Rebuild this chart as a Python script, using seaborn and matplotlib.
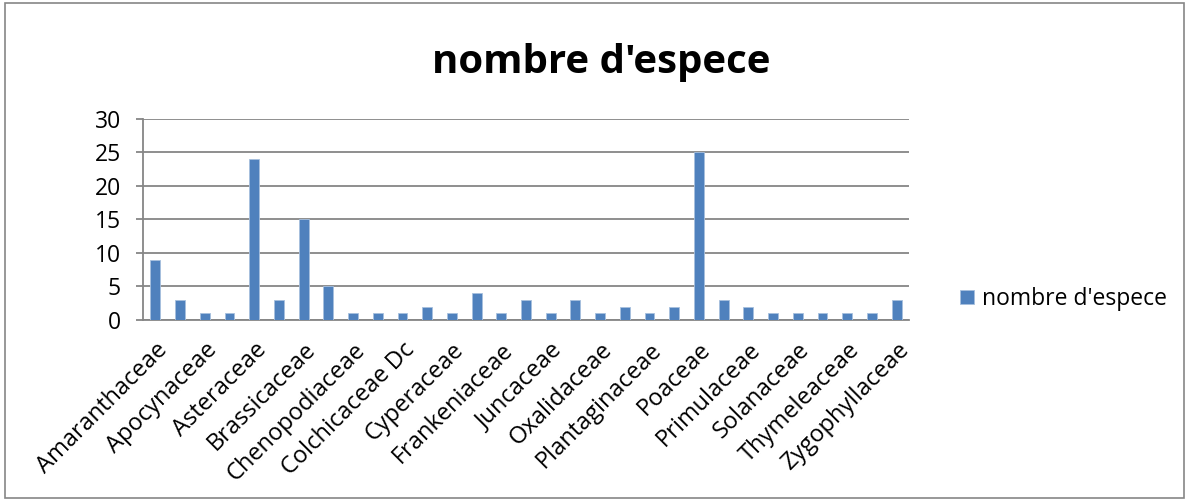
import matplotlib
matplotlib.use("Agg")
import matplotlib.pyplot as plt
import matplotlib.transforms as mtransforms
import seaborn as sns
from matplotlib.patches import Rectangle

# families (only every other name is shown on the axis, as in the original)
familles = ["Amaranthaceae", "Apiaceae", "Apocynaceae", "Asclepiadaceae",
            "Asteraceae", "Boraginaceae", "Brassicaceae", "Caryophyllaceae",
            "Chenopodiaceae", "Cistaceae", "Colchicaceae Dc", "Convolvulaceae",
            "Cyperaceae", "Fabaceae", "Frankeniaceae", "Geraniaceae",
            "Juncaceae", "Lamiaceae", "Oxalidaceae", "Papaveraceae",
            "Plantaginaceae", "Plumbaginaceae", "Poaceae", "Polygonaceae",
            "Primulaceae", "Resedaceae", "Solanaceae", "Tamaricaceae",
            "Thymeleaceae", "Urticaceae", "Zygophyllaceae"]
nb_especes = [9, 3, 1, 1, 24, 3, 15, 5, 1, 1, 1, 2, 1, 4, 1, 3,
              1, 3, 1, 2, 1, 2, 25, 3, 2, 1, 1, 1, 1, 1, 3]
serie = "nombre d'espece"
titre = "nombre d'espece"

sns.set_style("white")
plt.rcParams["font.family"] = ["Open Sans", "DejaVu Sans"]
plt.rcParams["text.color"] = "black"
plt.rcParams["xtick.color"] = "black"
plt.rcParams["ytick.color"] = "black"

fig = plt.figure(figsize=(11.89, 5.01), dpi=100)
ax = fig.add_axes([0.1203, 0.3613, 0.6442, 0.4012])

sns.barplot(x=familles, y=nb_especes, color="#4F81BD", saturation=1, width=0.4,
            edgecolor="#A7C0DE", linewidth=0.6, label=serie, ax=ax, zorder=3)

ax.set_xlim(-0.5, len(familles) - 0.5)
ax.set_ylim(0, 30)
ax.set_yticks(range(0, 31, 5))
ax.yaxis.grid(True, color="#868686", linewidth=1.3, zorder=0)
ax.xaxis.grid(False)

for s in ["top", "right"]:
    ax.spines[s].set_visible(False)
for s in ["left", "bottom"]:
    ax.spines[s].set_color("#868686")
    ax.spines[s].set_linewidth(1.3)

# labels on every other category, tick marks on category boundaries
ax.set_xticks(range(0, len(familles), 2))
ax.set_xticklabels(familles[::2], rotation=45, ha="right",
                   rotation_mode="anchor", fontsize=17)
shift = mtransforms.ScaledTranslation(-15 / 72, 0, fig.dpi_scale_trans)
for lab in ax.get_xticklabels():
    lab.set_transform(lab.get_transform() + shift)
ax.set_xticks([i - 0.5 for i in range(len(familles) + 1)], minor=True)
ax.tick_params(axis="x", which="major", length=0, pad=13)
ax.tick_params(axis="x", which="minor", length=5, width=1.3, color="#868686")
ax.tick_params(axis="y", length=5, width=1.3, color="#868686",
               labelcolor="black", labelsize=16.5, pad=11, left=True)

ax.legend(loc="center left", bbox_to_anchor=(1.04, 0.105), frameon=False,
          fontsize=16.5, handlelength=0.6, handleheight=0.6, handletextpad=0.35)

fig.suptitle(titre, x=0.506, y=0.915, fontsize=29, fontweight="bold", color="black")

fig.patches.append(Rectangle((0.004, 0.006), 0.992, 0.988, transform=fig.transFigure,
                             fill=False, edgecolor="#868686", linewidth=1.2))

fig.savefig("out.png", dpi=100)
